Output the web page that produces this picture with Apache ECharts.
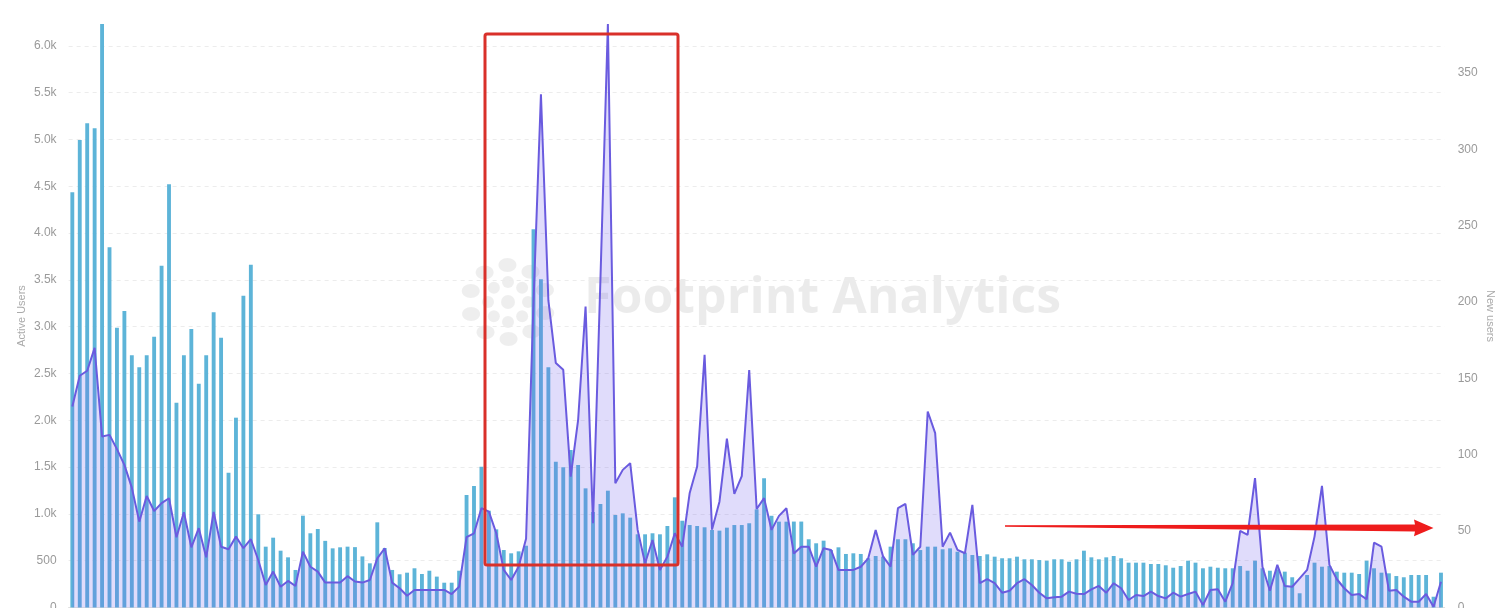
<!DOCTYPE html>
<html>
<head>
<meta charset="utf-8">
<script src="https://cdn.jsdelivr.net/npm/echarts@6/dist/echarts.min.js"></script>
<style>
html,body{margin:0;padding:0;background:#fff;}
#chart{width:1507px;height:608px;}
</style>
</head>
<body>
<div id="chart"></div>
<script>
// Active Users (bars, left axis)
const activeUsers = [
4436,4995,5173,5120,6234,3848,2990,3168,2694,2566,
2694,2893,3652,4521,2188,2694,2975,2391,2694,3154,
2883,1440,2028,3331,3662,996,650,746,607,536,
401,981,793,839,712,632,643,650,645,546,
472,910,636,401,355,372,419,358,393,330,
265,265,393,1202,1298,1504,1034,835,614,579,
600,660,4041,3506,2566,1558,1498,1683,1523,1273,
1020,1106,1248,988,1006,960,782,782,793,782,
871,1177,927,881,871,857,828,821,853,881,
881,900,1049,1380,980,917,917,918,918,729,
686,714,614,643,572,579,572,526,550,543,
650,729,729,686,614,650,650,622,632,596,
586,561,550,568,543,526,526,543,515,515,
507,500,515,515,489,515,607,536,515,536,
550,526,479,479,479,465,465,451,425,443,
500,479,419,436,425,419,419,443,393,500,
419,393,408,383,323,152,347,479,436,443,
383,372,372,358,500,419,372,365,336,323,
347,347,347,115,372
];
// New users (line, right axis)
const newUsers = [
131.6,151.7,155,170,112,113,103.7,93.4,78.5,56.2,
73,63.2,68.3,71.5,46,62.4,39.4,51.9,32.9,62.6,
39.8,38.1,46.4,38.8,44.7,31.1,14.7,23.5,13.6,17.4,
14.1,36.6,26.7,23.5,16.3,16.3,16.3,20.5,17,16.3,
18,32.2,38.8,16.3,12.6,7.7,11.5,11.5,11.5,11.5,
11.5,8.8,13.6,46,48.6,65,62.8,48.6,24.6,18,
26.7,45,200,336,201,160,155.6,85.7,122.9,197,
55.2,215,382,81.4,90.1,94.5,50.8,29,44.2,24.6,
33.3,48.6,39.8,75,92.3,165.5,51,69.3,110.5,74.4,
86,155.4,64.5,71.6,50.8,60,65,35.3,39.8,39.8,
26.7,38.8,37.7,24.6,24.6,24.6,26.7,32.2,50.8,33.3,
26.7,65,67.8,34.4,39.8,128.3,114.2,39.8,49,37.7,
35.5,67.2,15.9,18.5,15.9,9.7,11,15.9,18.5,14.7,
9.7,6,6.7,7.1,10.4,9,8.8,11.9,14.1,9.7,
15.9,12.6,4.9,8.2,7.5,10.4,7.5,6,9.7,7.1,
8.8,10.4,1.6,11.5,11.9,3.8,15.9,50.1,47.5,84.7,
26.7,11,27.9,14.1,13.6,19.1,24.6,46.4,79.6,27.9,
18.5,12.6,8.2,8.8,5.4,42.5,39.8,11,11.5,7.1,
3.8,3.8,8.8,0.5,16.9
];
const categories = activeUsers.map((_, i) => 'Day ' + (i + 1));
const leftAxisName = 'Active Users';
const rightAxisName = 'New users';
const watermarkText = 'Footprint Analytics';

const chart = echarts.init(document.getElementById('chart'), null, {renderer: 'canvas'});
const labelFont = {color: '#9a9a9a', fontSize: 12, fontFamily: 'Liberation Sans'};

// watermark logo dots
const logoDots = [];
const cx = 508, cy = 302;
logoDots.push({type: 'circle', shape: {cx: cx, cy: cy, r: 7}});
for (let k = 0; k < 8; k++) {
  const a = k * Math.PI / 4;
  logoDots.push({type: 'circle', shape: {cx: cx + 20 * Math.cos(a), cy: cy + 20 * Math.sin(a), r: 6}});
}
for (let k = 0; k < 10; k++) {
  const a = k * Math.PI / 5 + 0.3;
  logoDots.push({type: 'ellipse', shape: {cx: cx + 39 * Math.cos(a), cy: cy + 37 * Math.sin(a), rx: 9, ry: 7}});
}
logoDots.forEach(d => { d.style = {fill: 'rgba(0,0,0,0.065)'}; d.silent = true; d.z = -10; });

const nameStyle = {fill: '#aaaaaa', font: '11px "Liberation Sans"', align: 'center', verticalAlign: 'middle'};

chart.setOption({
  animation: false,
  backgroundColor: '#ffffff',
  grid: {left: 68.6, right: 62.3, top: 24, bottom: 0.5, outerBoundsMode: 'none', containLabel: false},
  xAxis: {
    type: 'category',
    data: categories,
    boundaryGap: true,
    axisLine: {show: true, lineStyle: {color: '#e0e0e0'}},
    axisTick: {show: false},
    axisLabel: {show: false},
    splitLine: {show: false}
  },
  yAxis: [
    {
      type: 'value',
      min: 0,
      max: 'dataMax',
      interval: 500,
      axisLine: {show: false},
      axisTick: {show: false},
      axisLabel: Object.assign({
        margin: 12,
        showMaxLabel: false,
        formatter: v => v === 0 ? '0' : (v >= 1000 ? (v / 1000).toFixed(1) + 'k' : String(v))
      }, labelFont),
      splitLine: {show: true, showMaxLine: false, lineStyle: {color: '#ececec', type: [4, 4], width: 1}}
    },
    {
      type: 'value',
      min: 0,
      max: 'dataMax',
      interval: 50,
      axisLine: {show: false},
      axisTick: {show: false},
      axisLabel: Object.assign({margin: 13, showMaxLabel: false}, labelFont),
      splitLine: {show: false}
    }
  ],
  series: [
    {
      name: leftAxisName,
      type: 'bar',
      yAxisIndex: 0,
      data: activeUsers,
      barWidth: '52%',
      itemStyle: {color: '#5db4d8'}
    },
    {
      name: rightAxisName,
      type: 'line',
      yAxisIndex: 1,
      data: newUsers,
      symbol: 'none',
      smooth: false,
      lineStyle: {color: '#6a5bdf', width: 2},
      itemStyle: {color: '#6a5bdf'},
      areaStyle: {color: 'rgba(116,98,238,0.32)'},
      z: 3
    }
  ],
  graphic: [
    ...logoDots,
    {
      type: 'text', silent: true, z: -10,
      left: 584, top: 274,
      style: {text: watermarkText, fill: 'rgba(0,0,0,0.08)', font: 'bold 50px "Open Sans"'}
    },
    {
      type: 'text', silent: true, x: 22, y: 316, rotation: Math.PI / 2,
      style: Object.assign({text: leftAxisName}, nameStyle)
    },
    {
      type: 'text', silent: true, x: 1490, y: 316, rotation: -Math.PI / 2,
      style: Object.assign({text: rightAxisName}, nameStyle)
    },
    {
      type: 'rect', silent: true, z: 100,
      shape: {x: 485, y: 34, width: 193, height: 531, r: 2},
      style: {fill: 'none', stroke: '#d9302a', lineWidth: 3}
    },
    {
      type: 'polygon', silent: true, z: 100,
      shape: {points: [[1005, 525.2], [1415, 524.5], [1414, 519.5], [1433.5, 528], [1414, 536.2], [1415, 531.5], [1005, 526.8]]},
      style: {fill: '#ee1c1c'}
    }
  ]
});
</script>
</body>
</html>
